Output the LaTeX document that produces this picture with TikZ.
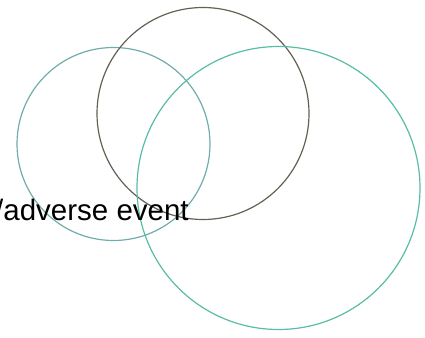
\documentclass[tikz,border=0pt]{standalone}
\usepackage{fontspec}
\setmainfont{Liberation Sans}
\definecolor{myteal}{RGB}{112,172,172}
\definecolor{mygrey}{RGB}{100,96,84}
\definecolor{mygreen}{RGB}{88,188,166}
\usetikzlibrary{positioning}
\tikzset{
	venncircle/.style={
			circle,
			draw=myteal,
			line width=1.2pt,
			fill=none,
			inner sep=0pt
		},
	venngrey/.style={
			venncircle,
			draw=mygrey
		},
	venngreen/.style={
			venncircle,
			draw=mygreen
		},
	labelnode/.style={
			font=\fontsize{29.5}{31}\selectfont,
			text=black,
			inner sep=0pt
		}
}
\begin{document}
\begin{tikzpicture}[x=1pt, y=1pt]
\useasboundingbox (0,0) rectangle (425,337);
\node[venncircle, minimum size=193pt] (left) at (113.5,193)  {};
\node[venngrey, minimum size=212pt] (top) at (203,223.5)  {};
\node[venngreen, minimum size=283pt] (big) at (278.5,149)  {};

\node[labelnode, anchor=base west] (event) at (-5,116) {/adverse event};
\end{tikzpicture}
\end{document}
